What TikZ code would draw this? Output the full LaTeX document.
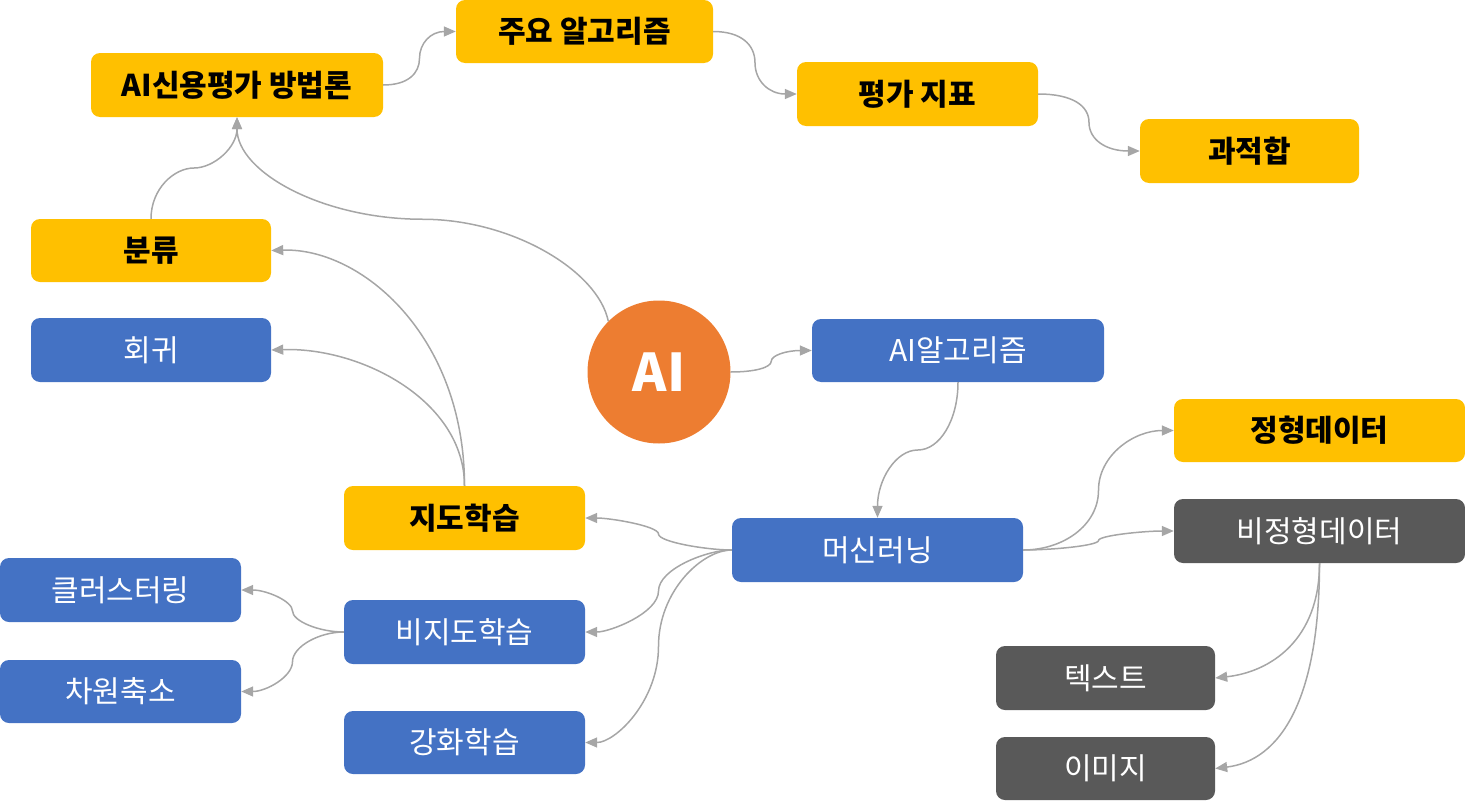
\documentclass[tikz,border=0pt]{standalone}
\usepackage{fontspec}
\usetikzlibrary{arrows.meta,calc}
\newfontfamily\kr{Noto Sans CJK KR}
\definecolor{cyel}{HTML}{FFC000}
\definecolor{cblue}{HTML}{4472C4}
\definecolor{cgray}{HTML}{595959}
\definecolor{corange}{HTML}{ED7D31}
\definecolor{cline}{HTML}{A6A6A6}
\tikzset{
  box/.style={rectangle, rounded corners=9pt, inner sep=0pt, minimum height=63pt,
    font=\kr\fontsize{30}{34}\selectfont},
  ybox/.style={box, fill=cyel, text=black, font=\kr\bfseries\fontsize{30}{34}\selectfont},
  bbox/.style={box, fill=cblue, text=white},
  gbox/.style={box, fill=cgray, text=white},
  conn/.style={draw=cline, line width=1.5pt, -{Triangle[length=12pt,width=10pt]}},
}
\begin{document}
\begin{tikzpicture}[x=1pt,y=-1pt]
\useasboundingbox (0,0) rectangle (1465,803);
% nodes
\node[ybox, minimum width=292pt, minimum height=64pt] (crm) at (237,85) {AI신용평가 방법론};
\node[ybox, minimum width=257pt] (alg) at (584.5,31.5) {주요 알고리즘};
\node[ybox, minimum width=241pt, minimum height=64pt] (ev) at (917.5,94) {평가 지표};
\node[ybox, minimum width=219pt, minimum height=64pt] (ovf) at (1249.5,151) {과적합};
\node[ybox, minimum width=240pt] (cls) at (151,250.5) {분류};
\node[bbox, minimum width=240pt, minimum height=64pt] (reg) at (151,350) {회귀};
\node[circle, fill=corange, minimum size=143pt, inner sep=0pt, text=white,
  font=\kr\bfseries\fontsize{52}{58}\selectfont] (ai) at (659,372) {AI};
\node[bbox, minimum width=292pt] (aialg) at (958,350.5) {AI알고리즘};
\node[ybox, minimum width=291pt] (sdata) at (1319.5,430.5) {정형데이터};
\node[gbox, minimum width=291pt, minimum height=64pt] (udata) at (1319.5,531) {비정형데이터};
\node[ybox, minimum width=241pt, minimum height=64pt] (sl) at (464.5,518) {지도학습};
\node[bbox, minimum width=291pt, minimum height=64pt] (ml) at (877.5,550) {머신러닝};
\node[bbox, minimum width=241pt, minimum height=64pt] (clu) at (120.5,590) {클러스터링};
\node[bbox, minimum width=241pt, minimum height=64pt] (ul) at (464.5,632) {비지도학습};
\node[bbox, minimum width=241pt] (dim) at (120.5,691.5) {차원축소};
\node[bbox, minimum width=241pt] (rl) at (464.5,742.5) {강화학습};
\node[gbox, minimum width=219pt, minimum height=64pt] (txt) at (1105.5,678) {텍스트};
\node[gbox, minimum width=219pt] (img) at (1105.5,768.5) {이미지};
% connectors
\draw[conn] (crm.east) .. controls +(25,0) and +(0,15) .. ($(crm.east)!.5!(alg.west)$)
  .. controls +(0,-15) and +(-25,0) .. (alg.west);
\draw[conn] (alg.east) .. controls +(28,0) and +(0,-18) .. ($(alg.east)!.5!(ev.west)$)
  .. controls +(0,18) and +(-28,0) .. (ev.west);
\draw[conn] (ev.east) .. controls +(34,0) and +(0,-17) .. ($(ev.east)!.5!(ovf.west)$)
  .. controls +(0,17) and +(-34,0) .. (ovf.west);
\draw[conn] (cls.north) .. controls +(0,-30) and +(-20,0) .. ($(cls.north)!.5!(crm.south)$)
  .. controls +(20,0) and +(0,30) .. (crm.south);
\draw[conn] (ai.135) .. controls +(-10,-50) and +(90,0) .. ($(ai.135)!.5!(crm.south)$)
  .. controls +(-100,0) and +(0,55) .. (crm.south);
\draw[conn] (sl.north) .. controls +(0,-150) and +(90,-3) .. (cls.east);
\draw[conn] (sl.north) .. controls +(0,-85) and +(90,-3) .. (reg.east);
\draw[conn] (ai.east) .. controls +(25,0) and +(0,6) .. ($(ai.east)!.5!(aialg.west)$)
  .. controls +(0,-6) and +(-25,0) .. (aialg.west);
\draw[conn] (aialg.south) .. controls +(0,38) and +(22,0) .. ($(aialg.south)!.5!(ml.north)$)
  .. controls +(-22,0) and +(0,-38) .. (ml.north);
\draw[conn] (ml.west) .. controls +(-25,0) and +(0,8) .. ($(ml.west)!.5!(sl.east)$)
  .. controls +(0,-8) and +(25,0) .. (sl.east);
\draw[conn] (ml.west) .. controls +(-25,0) and +(0,-22) .. ($(ml.west)!.5!(ul.east)$)
  .. controls +(0,22) and +(25,0) .. (ul.east);
\draw[conn] (ml.west) .. controls +(-30,0) and +(0,-55) .. ($(ml.west)!.5!(rl.east)$)
  .. controls +(0,55) and +(30,0) .. (rl.east);
\draw[conn] (ml.east) .. controls +(40,0) and +(0,35) .. ($(ml.east)!.5!(sdata.west)$)
  .. controls +(0,-35) and +(-40,0) .. (sdata.west);
\draw[conn] (ml.east) .. controls +(30,0) and +(0,5) .. ($(ml.east)!.5!(udata.west)$)
  .. controls +(0,-5) and +(-30,0) .. (udata.west);
\draw[conn] (udata.south) .. controls +(0,77) and +(55,-6) .. (txt.east);
\draw[conn] (udata.south) .. controls +(0,137) and +(65,-8) .. (img.east);
\draw[conn] (ul.west) .. controls +(-25,0) and +(0,10) .. ($(ul.west)!.5!(clu.east)$)
  .. controls +(0,-10) and +(25,0) .. (clu.east);
\draw[conn] (ul.west) .. controls +(-25,0) and +(0,-15) .. ($(ul.west)!.5!(dim.east)$)
  .. controls +(0,15) and +(25,0) .. (dim.east);
\end{tikzpicture}
\end{document}
